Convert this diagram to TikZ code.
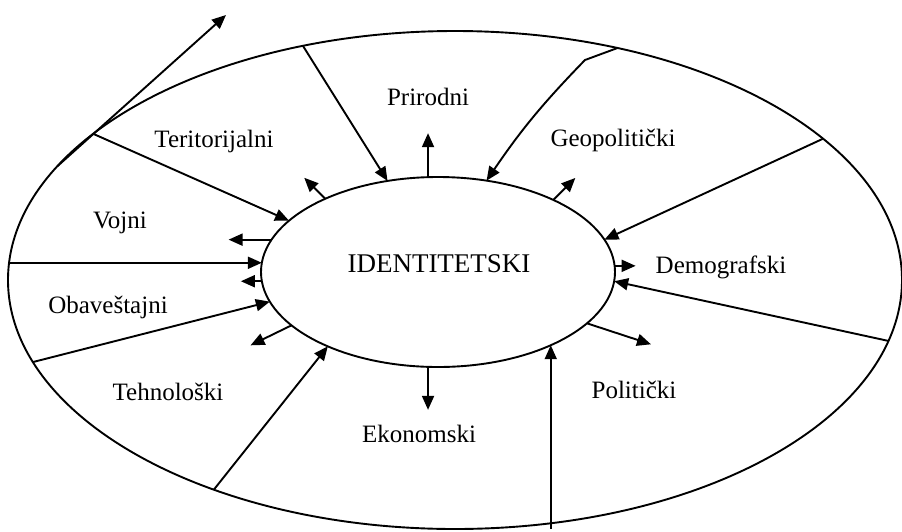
\documentclass[tikz,border=0pt]{standalone}
\usepackage{fontspec}
\setmainfont{Liberation Serif}
\usetikzlibrary{arrows.meta,shapes.geometric}
\begin{document}
\begin{tikzpicture}[x=1pt,y=-1pt,line width=1.9pt,
  >={Triangle[length=14pt,width=12pt]},
  ring/.style={draw,ellipse,inner sep=0pt,outer sep=0pt},
  lbl/.style={font=\fontsize{25}{30}\selectfont}]
  \useasboundingbox (0,0) rectangle (902,531);
  \node[ring,minimum width=894pt,minimum height=498pt] (rim) at (455,280) {};
  \node[ring,minimum width=354pt,minimum height=190pt] (core) at (438,272) {};
  \node[font=\fontsize{27}{32}\selectfont] (idt) at (439,263.5) {IDENTITETSKI};
  % oblasti
  \node[lbl] (prir) at (428,97)  {Prirodni};
  \node[lbl] (teri) at (214,141) {Teritorijalni};
  \node[lbl] (geo)  at (613,140) {Geopolitički};
  \node[lbl] (voj)  at (120,223) {Vojni};
  \node[lbl] (demo) at (721,267) {Demografski};
  \node[lbl] (obav) at (108,307) {Obaveštajni};
  \node[lbl] (teh)  at (168,392) {Tehnološki};
  \node[lbl] (eko)  at (419,434) {Ekonomski};
  \node[lbl] (pol)  at (634,390) {Politički};
  \coordinate (izlaz) at (226,15);
  \coordinate (lom) at (585,60);
  % ka jezgru
  \draw[->] (rim.164) -- (izlaz);
  \draw[->] (rim.158.5) -- (core.161);
  \draw[->] (rim.123.7) -- (core.119);
  \draw[->] (rim.55) -- (lom) to[bend right=5] (core.62);
  \draw[->] (rim.21.3) -- (core.11);
  \draw[->] (rim.-8.5) -- (core.-3.5);
  \draw[->] (core.-33 |- rim.south) -- (core.-33);
  \draw[->] (rim.221.8) -- (core.214);
  \draw[->] (rim.191.4) -- (core.190);
  \draw[->] (rim.west |- core.177) -- (core.177);
  % od jezgra
  \draw[->] (core.147) -- ++(-21,-21);
  \draw[->] (core.96) -- ++(0,-44);
  \draw[->] (core.32) -- ++(22,-22);
  \draw[->] (core.2) -- ++(21,0);
  \draw[->] (core.-19) -- ++(64,21);
  \draw[->] (core.264) -- ++(0,43);
  \draw[->] (core.200) -- ++(-41,20);
  \draw[->] (core.183.6) -- ++(-21,0);
  \draw[->] (core.169) -- ++(-43,0);
\end{tikzpicture}
\end{document}
